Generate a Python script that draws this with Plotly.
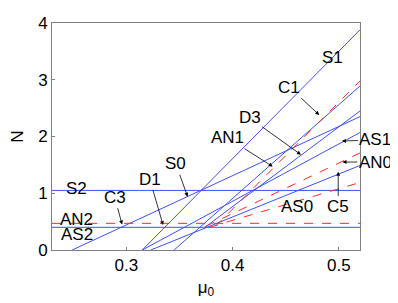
import plotly.graph_objects as go

# branches: mu endpoints, N endpoints
blue_names = ["S2", "AS2", "S0", "S1", "C1 branch", "AS0", "D3 branch", "AS1"]
blue_mu = [[0.23, 0.52], [0.23, 0.52], [0.249, 0.52], [0.315, 0.52],
           [0.345, 0.52], [0.323, 0.52], [0.374, 0.52], [0.315, 0.52]]
blue_N = [[1.05, 1.05], [0.40, 0.40], [0.0, 2.35], [0.0, 3.88],
          [0.0, 2.89], [0.0, 1.49], [0.40, 2.45], [0.0, 2.07]]

red_names = ["AN2", "AN1", "AN0", "AN low"]
red_mu = [[0.23, 0.52], [0.384, 0.52], [0.375, 0.52], [0.378, 0.52]]
red_N = [[0.47, 0.47], [0.42, 2.98], [0.42, 1.71], [0.40, 1.19]]

# annotations: text, text position (mu, N), arrow tip (mu, N) or None
ann_text = ["S1", "C1", "D3", "AN1", "AS1", "AN0", "C5", "AS0", "S0", "D1", "C3", "S2", "AN2", "AS2"]
ann_pos = [(0.494, 3.39), (0.4535, 2.87), (0.416, 2.33), (0.395, 1.98), (0.5345, 1.94),
           (0.5345, 1.55), (0.4995, 0.76), (0.461, 0.76), (0.3465, 1.52), (0.322, 1.25),
           (0.289, 0.93), (0.2535, 1.09), (0.2535, 0.53), (0.2535, 0.28)]
ann_tip = [None, (0.4816, 2.38), (0.4644, 1.68), (0.4378, 1.47), (0.503, 1.92),
           (0.5035, 1.55), (0.4995, 1.38), None, (0.3577, 0.94), (0.3346, 0.44),
           (0.296, 0.45), None, None, None]

FONT = "Liberation Sans, Arial, Helvetica"

fig = go.Figure()
for m, n in zip(blue_mu, blue_N):
    fig.add_trace(go.Scatter(x=m, y=n, mode="lines", cliponaxis=True,
                             line=dict(color="rgb(60,80,255)", width=1), showlegend=False))
for m, n in zip(red_mu, red_N):
    fig.add_trace(go.Scatter(x=m, y=n, mode="lines", cliponaxis=True,
                             line=dict(color="rgb(255,40,40)", width=1, dash="dash"), showlegend=False))

font = dict(family=FONT, size=17, color="black")
for t, p, tip in zip(ann_text, ann_pos, ann_tip):
    if tip is None:
        fig.add_annotation(x=p[0], y=p[1], text=t, showarrow=False, font=font, xref="x", yref="y")
    else:
        fig.add_annotation(x=tip[0], y=tip[1], ax=p[0], ay=p[1], axref="x", ayref="y",
                           text=t, showarrow=True, arrowhead=2, arrowsize=1, arrowwidth=0.8,
                           arrowcolor="black", standoff=0, font=font, xref="x", yref="y")

axis_common = dict(showline=True, linecolor="gray", linewidth=1, mirror=True, automargin=False,
                   ticks="inside", ticklen=3, tickcolor="gray", showgrid=False, zeroline=False,
                   tickfont=dict(family=FONT, size=17, color="black"))
fig.update_xaxes(range=[0.23, 0.52], tickvals=[0.3, 0.4, 0.5], ticktext=["0.3", "0.4", "0.5"],
                 title=dict(text="μ<sub>0</sub>", font=dict(family=FONT, size=17, color="black"), standoff=6),
                 **axis_common)
fig.update_yaxes(range=[0, 4], tickvals=[0, 1, 2, 3, 4],
                 title=dict(text="N", font=dict(family=FONT, size=17, color="black"), standoff=12),
                 **axis_common)
fig.update_layout(width=390, height=295, margin=dict(l=44, r=38, t=15, b=53, autoexpand=False),
                  plot_bgcolor="white", paper_bgcolor="white")
fig.write_html("out.html")
